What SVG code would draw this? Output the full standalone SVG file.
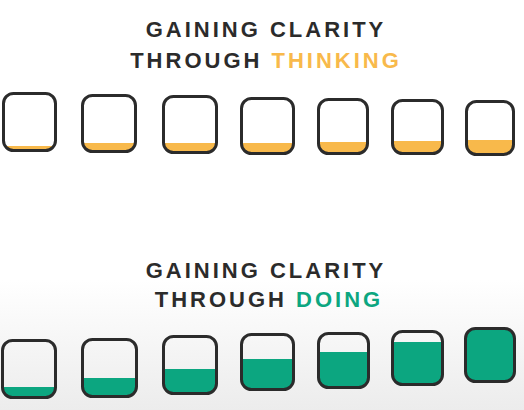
<svg xmlns="http://www.w3.org/2000/svg" width="524" height="410" viewBox="0 0 524 410">
<defs>
<linearGradient id="bg" x1="0" y1="0" x2="0" y2="1">
<stop offset="0" stop-color="#ffffff"/>
<stop offset="1" stop-color="#ececec"/>
</linearGradient>
<clipPath id="c1"><rect x="3.5" y="93.5" width="52" height="57" rx="10"/></clipPath>
<clipPath id="c2"><rect x="82.5" y="95.5" width="53" height="56" rx="10"/></clipPath>
<clipPath id="c3"><rect x="163.5" y="96.5" width="53" height="56" rx="10"/></clipPath>
<clipPath id="c4"><rect x="241.5" y="98.5" width="52" height="55" rx="10"/></clipPath>
<clipPath id="c5"><rect x="318.5" y="99.5" width="49" height="54" rx="10"/></clipPath>
<clipPath id="c6"><rect x="392.5" y="100.5" width="50" height="53" rx="10"/></clipPath>
<clipPath id="c7"><rect x="466.5" y="101.5" width="47" height="53" rx="10"/></clipPath>
<clipPath id="d1"><rect x="2.5" y="340.5" width="53" height="57" rx="10"/></clipPath>
<clipPath id="d2"><rect x="82.5" y="339.5" width="54" height="57" rx="10"/></clipPath>
<clipPath id="d3"><rect x="163.5" y="336.5" width="53" height="57" rx="10"/></clipPath>
<clipPath id="d4"><rect x="241.5" y="334.5" width="52" height="55" rx="10"/></clipPath>
<clipPath id="d5"><rect x="318.5" y="333.5" width="50" height="54" rx="10"/></clipPath>
<clipPath id="d6"><rect x="392.5" y="331.5" width="50" height="53" rx="10"/></clipPath>
<clipPath id="d7"><rect x="465.5" y="328.5" width="49" height="53" rx="10"/></clipPath>
</defs>
<style>
.t{font-family:"Liberation Sans",Arial,sans-serif;font-weight:bold;font-size:22px;letter-spacing:3px;fill:#2b2b2b;text-anchor:middle}
.or{fill:#f8b94b}
.gr{fill:#0ca680}
.box{fill:none;stroke:#2b2b2b;stroke-width:3}
</style>
<rect x="0" y="0" width="524" height="280" fill="#ffffff"/>
<rect x="0" y="280" width="524" height="130" fill="url(#bg)"/>
<g id="title-thinking">
<text class="t" x="266" y="37">GAINING CLARITY</text>
<text class="t" x="266" y="68">THROUGH <tspan class="or">THINKING</tspan></text>
</g>
<g id="title-doing">
<text class="t" x="266" y="278">GAINING CLARITY</text>
<text class="t" x="269" y="307">THROUGH <tspan class="gr">DOING</tspan></text>
</g>
<g id="thinking-1"><rect class="or" clip-path="url(#c1)" x="0" y="146" width="60" height="10"/><rect class="box" x="3.5" y="93.5" width="52" height="57" rx="10"/></g>
<g id="thinking-2"><rect class="or" clip-path="url(#c2)" x="80" y="143" width="60" height="12"/><rect class="box" x="82.5" y="95.5" width="53" height="56" rx="10"/></g>
<g id="thinking-3"><rect class="or" clip-path="url(#c3)" x="160" y="143" width="60" height="12"/><rect class="box" x="163.5" y="96.5" width="53" height="56" rx="10"/></g>
<g id="thinking-4"><rect class="or" clip-path="url(#c4)" x="238" y="143" width="60" height="12"/><rect class="box" x="241.5" y="98.5" width="52" height="55" rx="10"/></g>
<g id="thinking-5"><rect class="or" clip-path="url(#c5)" x="315" y="142" width="60" height="14"/><rect class="box" x="318.5" y="99.5" width="49" height="54" rx="10"/></g>
<g id="thinking-6"><rect class="or" clip-path="url(#c6)" x="389" y="141" width="60" height="15"/><rect class="box" x="392.5" y="100.5" width="50" height="53" rx="10"/></g>
<g id="thinking-7"><rect class="or" clip-path="url(#c7)" x="463" y="140" width="60" height="16"/><rect class="box" x="466.5" y="101.5" width="47" height="53" rx="10"/></g>
<g id="doing-1"><rect class="gr" clip-path="url(#d1)" x="0" y="387" width="60" height="14"/><rect class="box" x="2.5" y="340.5" width="53" height="57" rx="10"/></g>
<g id="doing-2"><rect class="gr" clip-path="url(#d2)" x="80" y="378" width="60" height="22"/><rect class="box" x="82.5" y="339.5" width="54" height="57" rx="10"/></g>
<g id="doing-3"><rect class="gr" clip-path="url(#d3)" x="160" y="369" width="60" height="28"/><rect class="box" x="163.5" y="336.5" width="53" height="57" rx="10"/></g>
<g id="doing-4"><rect class="gr" clip-path="url(#d4)" x="238" y="359" width="60" height="34"/><rect class="box" x="241.5" y="334.5" width="52" height="55" rx="10"/></g>
<g id="doing-5"><rect class="gr" clip-path="url(#d5)" x="315" y="352" width="60" height="40"/><rect class="box" x="318.5" y="333.5" width="50" height="54" rx="10"/></g>
<g id="doing-6"><rect class="gr" clip-path="url(#d6)" x="389" y="342" width="60" height="46"/><rect class="box" x="392.5" y="331.5" width="50" height="53" rx="10"/></g>
<g id="doing-7"><rect class="gr" clip-path="url(#d7)" x="462" y="326" width="60" height="60"/><rect class="box" x="465.5" y="328.5" width="49" height="53" rx="10"/></g>
<g id="connectors"></g>
</svg>
